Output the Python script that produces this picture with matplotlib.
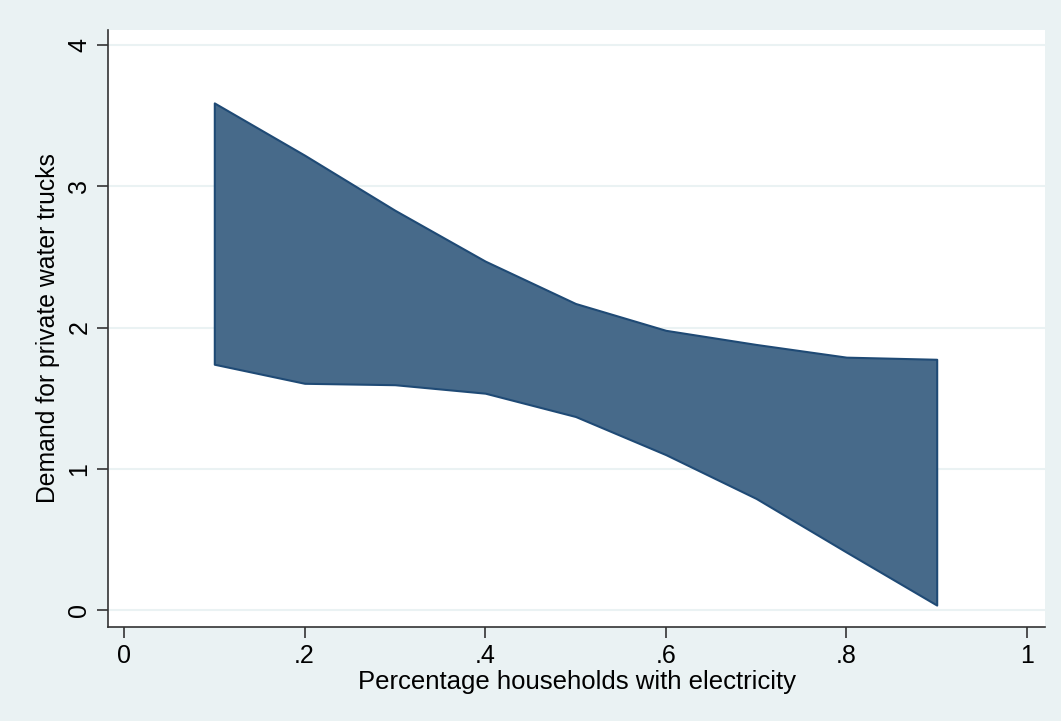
import matplotlib
matplotlib.use("Agg")
import matplotlib.pyplot as plt

# shares of households with electricity
x = [0.1, 0.2, 0.3, 0.4, 0.5, 0.6, 0.7, 0.8, 0.9]
# confidence band
upper = [3.59, 3.22, 2.83, 2.47, 2.17, 1.98, 1.88, 1.79, 1.775]
lower = [1.74, 1.605, 1.595, 1.535, 1.37, 1.10, 0.79, 0.41, 0.035]

xticks = [0, 0.2, 0.4, 0.6, 0.8, 1]
xticklabels = ['0', '.2', '.4', '.6', '.8', '1']
yticks = [0, 1, 2, 3, 4]
yticklabels = ['0', '1', '2', '3', '4']

plt.rcParams['font.family'] = ['Liberation Sans', 'DejaVu Sans']

bg = '#eaf2f3'
fig = plt.figure(figsize=(10.61, 7.21), dpi=100, facecolor=bg)
ax = fig.add_axes([108/1061, 1-627/721, (1045-108)/1061, (627-30)/721])
ax.set_facecolor('white')

ax.fill_between(x, lower, upper, facecolor='#476a8a', edgecolor='#1f4a75', linewidth=1.5, zorder=3)

ax.set_xlim(-16/903, 1 + 18/903)
ax.set_ylim(-17/141.25, (610-30)/141.25)

ax.set_xticks(xticks)
ax.set_xticklabels(xticklabels)
ax.set_yticks(yticks)
ax.set_yticklabels(yticklabels, rotation=90, va='center')
ax.yaxis.grid(True, color='#eaf2f3', linewidth=1.5, zorder=0)
ax.set_axisbelow(True)

for s in ['top', 'right']:
    ax.spines[s].set_visible(False)
for s in ['left', 'bottom']:
    ax.spines[s].set_color('#333333')
    ax.spines[s].set_linewidth(1.2)
ax.tick_params(direction='out', length=8, width=1.2, color='#333333', labelsize=18, pad=4)

ax.set_xlabel('Percentage households with electricity', fontsize=18.5, labelpad=2)
ax.set_ylabel('Demand for private water trucks', fontsize=17.8, labelpad=5)

fig.savefig('out.png', dpi=100, facecolor=bg)
